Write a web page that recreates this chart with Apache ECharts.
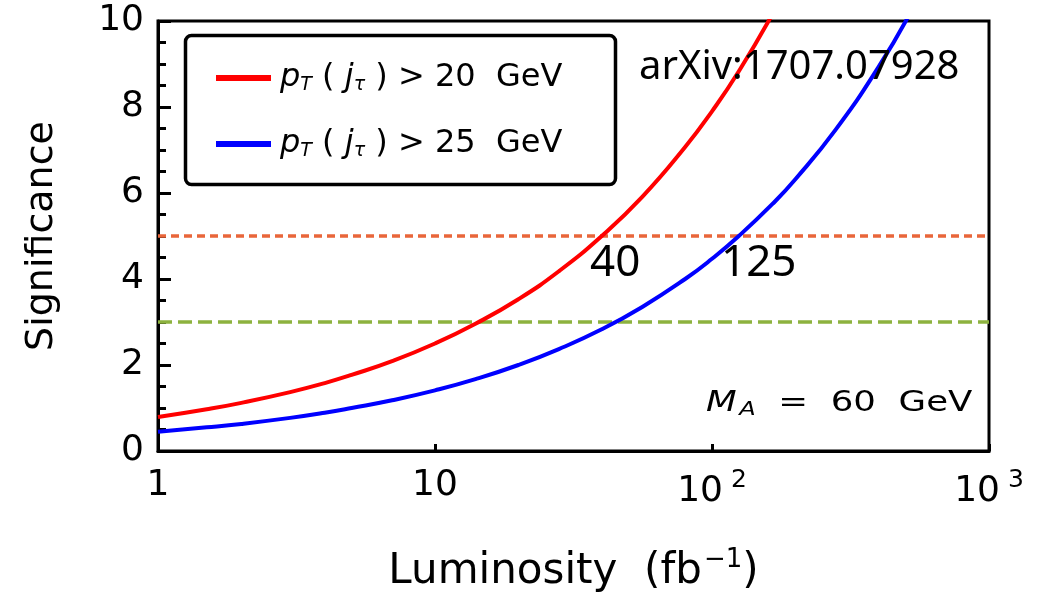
<!DOCTYPE html>
<html>
<head>
<meta charset="utf-8">
<script src="https://cdn.jsdelivr.net/npm/echarts@6/dist/echarts.min.js"></script>
<style>html,body{margin:0;padding:0;background:#fff;}#c{width:1039px;height:596px;}</style>
</head>
<body>
<div id="c"></div>
<script>
// Luminosity (fb^-1) sample points
const lumi = [1, 1.5, 2, 3, 4, 5, 7, 10, 14, 20, 28, 40, 56, 80, 100, 125, 165, 200, 280, 400, 520];
// Significance, pT(j_tau) > 20 GeV (red)
const sigPt20 = [0.79, 0.97, 1.12, 1.37, 1.58, 1.77, 2.09, 2.50, 2.96, 3.53, 4.18, 5.00, 5.91, 7.07, 7.90, 8.83, 10.15, null, null, null, null];
// Significance, pT(j_tau) > 25 GeV (blue)
const sigPt25 = [0.45, 0.55, 0.63, 0.77, 0.89, 1.00, 1.18, 1.41, 1.67, 2.00, 2.37, 2.83, 3.35, 4.00, 4.47, 5.00, 5.74, 6.32, 7.48, 8.94, 10.19];
// Reference significance levels
const level5 = 5;
const level3 = 3;
const xRange = [1, 1000];
// Crossing annotations
const crossLabels = ['40', '125'];
const seriesNames = ['pT(jτ) > 20 GeV', 'pT(jτ) > 25 GeV'];
const xTickLabels = {1: '1', 10: '10', 100: '10{sup|2}', 1000: '10{sup|3}'};

const chart = echarts.init(document.getElementById('c'));
const FONT = 'DejaVu Sans';

function pairs(xs, ys) {
  const out = [];
  for (let i = 0; i < xs.length; i++) if (ys[i] != null) out.push([xs[i], ys[i]]);
  return out;
}

const legendRich = {
  i: {fontFamily: FONT, fontStyle: 'italic', fontSize: 32, color: '#000'},
  sub: {fontFamily: FONT, fontStyle: 'italic', fontSize: 19, color: '#000', padding: [15, 0, 0, 0]},
  n: {fontFamily: FONT, fontSize: 32, color: '#000'}
};

chart.setOption({
  animation: false,
  backgroundColor: '#fff',
  grid: {left: 158, right: 50, top: 21, bottom: 145, containLabel: false, outerBoundsMode: 'none',
    show: true, borderColor: '#000', borderWidth: 3, backgroundColor: 'transparent'},
  xAxis: {
    type: 'log', logBase: 10, min: xRange[0], max: xRange[1],
    axisLine: {show: true, lineStyle: {color: '#000', width: 3}},
    axisTick: {show: true, inside: true, length: 7, lineStyle: {color: '#000', width: 3}},
    minorTick: {show: false},
    splitLine: {show: false},
    axisLabel: {
      color: '#000', fontFamily: FONT, fontSize: 36, margin: 17, showMinLabel: true, showMaxLabel: true,
      formatter: function (v) { return xTickLabels[Math.round(v)] || ''; },
      rich: {sup: {fontFamily: FONT, fontSize: 25, color: '#000', padding: [0, 0, 22, 8]}}
    },
    name: 'Luminosity  (fb{sup|−1})',
    nameLocation: 'middle', nameGap: 96,
    nameTextStyle: {color: '#000', fontFamily: FONT, fontSize: 42,
      rich: {sup: {fontFamily: FONT, fontSize: 26, color: '#000', padding: [0, 0, 24, 2]}}}
  },
  yAxis: {
    type: 'value', min: 0, max: 10, interval: 2,
    axisLine: {show: true, lineStyle: {color: '#000', width: 3}},
    axisTick: {show: true, inside: true, length: 13, lineStyle: {color: '#000', width: 3}},
    minorTick: {show: true, splitNumber: 4, length: 8, lineStyle: {color: '#000', width: 3}},
    splitLine: {show: false},
    axisLabel: {color: '#000', fontFamily: FONT, fontSize: 36, margin: 14},
    name: 'Significance', nameLocation: 'middle', nameGap: 97,
    nameTextStyle: {color: '#000', fontFamily: FONT, fontSize: 38}
  },
  legend: {
    show: true, orient: 'vertical', left: 211, top: 57,
    data: seriesNames,
    icon: 'rect', itemWidth: 55, itemHeight: 6, itemGap: 33,
    textStyle: {rich: legendRich, padding: [0, 0, 0, 4]},
    formatter: function (name) {
      const thr = name.indexOf('20') >= 0 ? '20' : '25';
      return '{i|p}{sub|T}{n| ( }{i|j}{sub|τ}{n| ) > ' + thr + '  GeV}';
    }
  },
  series: [
    {name: 'level5', type: 'line', data: [[xRange[0], level5], [xRange[1], level5]], showSymbol: false, silent: true, z: 1,
      lineStyle: {color: '#E9663A', width: 3.5, type: [8, 5]}},
    {name: 'level3', type: 'line', data: [[xRange[0], level3], [xRange[1], level3]], showSymbol: false, silent: true, z: 1,
      lineStyle: {color: '#8DB23F', width: 3.5, type: [14, 6]}},
    {name: seriesNames[0], type: 'line', data: pairs(lumi, sigPt20), smooth: true, showSymbol: false, clip: true, z: 3,
      itemStyle: {color: '#FF0000'}, lineStyle: {color: '#FF0000', width: 4}},
    {name: seriesNames[1], type: 'line', data: pairs(lumi, sigPt25), smooth: true, showSymbol: false, clip: true, z: 3,
      itemStyle: {color: '#0000FF'}, lineStyle: {color: '#0000FF', width: 4}}
  ],
  graphic: [
    {type: 'rect', left: 183, top: 33, z: 10, silent: true,
      shape: {width: 430, height: 149, r: 6}, style: {fill: 'none', stroke: '#000', lineWidth: 3.5}},
    {type: 'text', left: 639, top: 48, z: 10, style: {text: 'arXiv:1707.07928', font: '40px "Noto Sans"', fill: '#000'}},
    {type: 'text', left: 590, top: 241, z: 10, style: {text: crossLabels[0], font: '44px "Noto Sans"', fill: '#000'}},
    {type: 'text', left: 721, top: 241, z: 10, style: {text: crossLabels[1], font: '44px "Noto Sans"', fill: '#000'}},
    {type: 'text', x: 706, y: 387, scaleX: 1.27, z: 10, style: {
      text: '{m|M}{s|A}{n|  =  60  GeV}',
      rich: {
        m: {fontFamily: FONT, fontStyle: 'italic', fontSize: 28, fill: '#000'},
        s: {fontFamily: FONT, fontStyle: 'italic', fontSize: 19, fill: '#000', padding: [14, 0, 0, 2]},
        n: {fontFamily: FONT, fontSize: 28, fill: '#000'}
      }}}
  ]
});
</script>
</body>
</html>
